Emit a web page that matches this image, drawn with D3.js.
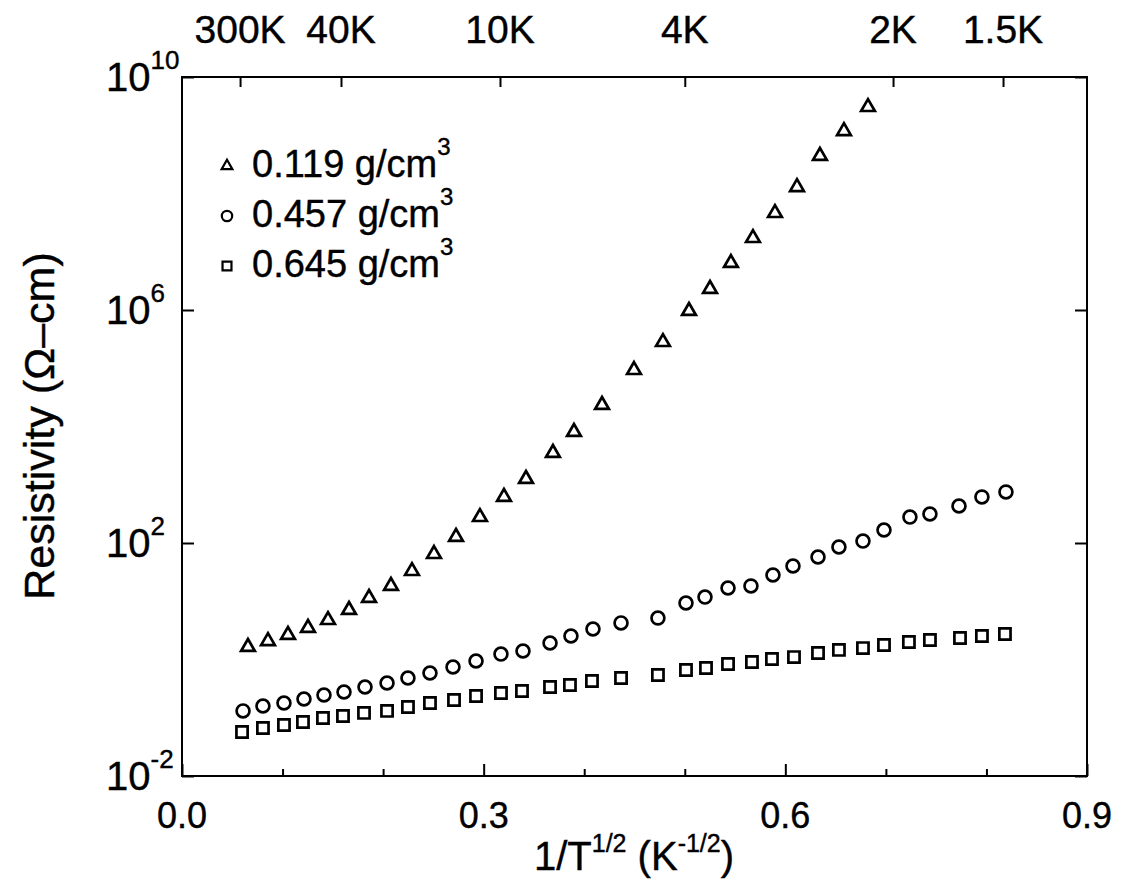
<!DOCTYPE html>
<html>
<head>
<meta charset="utf-8">
<script src="https://cdn.jsdelivr.net/npm/d3@7"></script>
<style>
  body { margin: 0; background: #fff; }
  svg { font-family: "Liberation Sans", Arial, Helvetica, sans-serif; }
  svg text { stroke: #000; stroke-width: 0.4px; }
</style>
</head>
<body>
<div id="chart"></div>
<script>
// 1/T^(1/2) values (K^-1/2) and resistivity (ohm-cm)
var triX = [0.0656, 0.0855, 0.1054, 0.1253, 0.1452, 0.1661, 0.1860, 0.2078, 0.2287, 0.2506,
            0.2725, 0.2963, 0.3202, 0.3421, 0.3689, 0.3898, 0.4177, 0.4495, 0.4783, 0.5042,
            0.5251, 0.5459, 0.5678, 0.5897, 0.6116, 0.6344, 0.6583, 0.6822];
var triRho = [1.64, 2.07, 2.64, 3.48, 4.76, 7.08, 11.4, 18.3, 33.0, 64.7,
              127, 279, 617, 1256, 3510, 8050, 23400, 93300, 2.82e5, 9.62e5,
              2.30e6, 6.41e6, 1.72e7, 4.62e7, 1.29e8, 4.41e8, 1.18e9, 3.05e9];

var circX = [0.0607, 0.0805, 0.1014, 0.1213, 0.1412, 0.1611, 0.1820, 0.2039, 0.2247, 0.2466,
             0.2695, 0.2924, 0.3172, 0.3391, 0.3660, 0.3868, 0.4087, 0.4366, 0.4733, 0.5012,
             0.5201, 0.5430, 0.5658, 0.5877, 0.6076, 0.6325, 0.6533, 0.6772, 0.6981, 0.7239,
             0.7438, 0.7727, 0.7955, 0.8194];
var circRho = [0.131, 0.159, 0.179, 0.210, 0.246, 0.277, 0.337, 0.395, 0.481, 0.586,
               0.743, 0.942, 1.24, 1.40, 1.92, 2.53, 3.34, 4.24, 5.15, 9.33,
               11.8, 16.9, 18.3, 28.2, 40.3, 57.5, 85.3, 108, 167, 279,
               315, 432, 617, 752];

var sqX = [0.0597, 0.0805, 0.1014, 0.1203, 0.1402, 0.1601, 0.1810, 0.2039, 0.2247, 0.2466,
           0.2705, 0.2924, 0.3172, 0.3381, 0.3660, 0.3858, 0.4077, 0.4366, 0.4733, 0.5012,
           0.5211, 0.5430, 0.5668, 0.5867, 0.6086, 0.6325, 0.6533, 0.6772, 0.6981, 0.7229,
           0.7438, 0.7737, 0.7955, 0.8184];
var sqRho = [0.0569, 0.0667, 0.0752, 0.0845, 0.0991, 0.107, 0.121, 0.131, 0.153, 0.179,
             0.202, 0.236, 0.266, 0.288, 0.337, 0.365, 0.428, 0.481, 0.542, 0.661,
             0.714, 0.838, 0.906, 1.02, 1.10, 1.29, 1.46, 1.57, 1.77, 2.00,
             2.16, 2.34, 2.53, 2.74];

var seriesNames = ['0.119 g/cm', '0.457 g/cm', '0.645 g/cm'];

var xMajorTicks = [0.0, 0.3, 0.6, 0.9];
var xMinorTicks = [0.1, 0.2, 0.4, 0.5, 0.7, 0.8];
var yTickExps = [10, 6, 2, -2];
var tempTicks = [300, 40, 10, 4, 2, 1.5];
var tempLabels = ['300K', '40K', '10K', '4K', '2K', '1.5K'];

function drawChart(target) {

    var width = 1127, height = 888;
    var pLeft = 182, pRight = 1087, pTop = 77, pBottom = 776;

    var svg = d3.select(target).append('svg')
                .attr('width', width).attr('height', height);

    var x = d3.scaleLinear().domain([0, 0.9]).range([pLeft, pRight]);
    var y = d3.scaleLog().domain([1e-2, 1e10]).range([pBottom, pTop]);

    function zip(xs, ys) {
        return xs.map(function(v, i) { return { x: v, y: ys[i] }; });
    }

    function cleanAxis(g) {
        g.select('.domain').remove();
        g.selectAll('.tick line').attr('stroke', '#000').attr('stroke-width', 2);
    }

    // frame
    svg.append('rect')
       .attr('x', pLeft).attr('y', pTop)
       .attr('width', pRight - pLeft).attr('height', pBottom - pTop)
       .attr('fill', 'none').attr('stroke', '#000').attr('stroke-width', 2);

    // bottom axis, ticks point inward
    svg.append('g').attr('transform', 'translate(0,' + pBottom + ')')
       .call(d3.axisBottom(x).tickValues(xMajorTicks).tickSize(-12).tickFormat(''))
       .call(cleanAxis);
    svg.append('g').attr('transform', 'translate(0,' + pBottom + ')')
       .call(d3.axisBottom(x).tickValues(xMinorTicks).tickSize(-7).tickFormat(''))
       .call(cleanAxis);

    svg.append('g').selectAll('text').data(xMajorTicks).enter()
       .append('text')
       .attr('x', function(d) { return x(d); })
       .attr('y', 828)
       .attr('text-anchor', 'middle')
       .attr('font-size', 36)
       .text(function(d) { return d3.format('.1f')(d); });

    // top axis: temperature
    svg.append('g').attr('transform', 'translate(0,' + pTop + ')')
       .call(d3.axisTop(x).tickValues(tempTicks.map(function(t) { return 1 / Math.sqrt(t); }))
               .tickSize(-10).tickFormat(''))
       .call(cleanAxis);

    svg.append('g').selectAll('text').data(tempTicks).enter()
       .append('text')
       .attr('x', function(t) { return x(1 / Math.sqrt(t)); })
       .attr('y', 43)
       .attr('text-anchor', 'middle')
       .attr('font-size', 39)
       .text(function(t, i) { return tempLabels[i]; });

    // left / right axes
    var yTicks = yTickExps.map(function(e) { return Math.pow(10, e); });
    svg.append('g').attr('transform', 'translate(' + pLeft + ',0)')
       .call(d3.axisLeft(y).tickValues(yTicks).tickSize(-12).tickFormat(''))
       .call(cleanAxis);
    svg.append('g').attr('transform', 'translate(' + pRight + ',0)')
       .call(d3.axisRight(y).tickValues(yTicks).tickSize(-12).tickFormat(''))
       .call(cleanAxis);

    var yLab = svg.append('g').selectAll('text').data(yTickExps).enter()
       .append('text')
       .attr('x', 106)
       .attr('y', function(e) { return y(Math.pow(10, e)) + 14; })
       .attr('font-size', 40);
    yLab.append('tspan').text('10');
    yLab.append('tspan').attr('dy', -22).attr('font-size', 26)
        .text(function(e) { return e < 0 ? '-' + (-e) : e; });

    // axis titles
    svg.append('text')
       .attr('transform', 'translate(54,426) rotate(-90)')
       .attr('text-anchor', 'middle')
       .attr('font-size', 43)
       .text('Resistivity (\u03A9\u2013cm)');

    var xt = svg.append('text')
       .attr('x', 634).attr('y', 870)
       .attr('text-anchor', 'middle')
       .attr('font-size', 40);
    xt.append('tspan').text('1/T');
    xt.append('tspan').attr('dy', -18).attr('font-size', 25).text('1/2');
    xt.append('tspan').attr('dy', 18).text(' (K');
    xt.append('tspan').attr('dy', -18).attr('font-size', 25).text('-1/2');
    xt.append('tspan').attr('dy', 18).text(')');

    // data markers
    var series = [
        { data: zip(triX, triRho), type: d3.symbolTriangle, size: 82 },
        { data: zip(circX, circRho), type: d3.symbolCircle, size: 130 },
        { data: zip(sqX, sqRho), type: d3.symbolSquare, size: 125 }
    ];

    series.forEach(function(s) {
        svg.append('g').selectAll('path').data(s.data).enter()
           .append('path')
           .attr('d', d3.symbol().type(s.type).size(s.size))
           .attr('transform', function(d) { return 'translate(' + x(d.x) + ',' + y(d.y) + ')'; })
           .attr('fill', 'none')
           .attr('stroke', '#000')
           .attr('stroke-width', 2.7);
    });

    // legend
    var legendSizes = [50, 85, 80];
    var legend = svg.append('g').selectAll('g').data(series).enter()
       .append('g')
       .attr('transform', function(d, i) { return 'translate(227,' + (166 + i * 50) + ')'; });
    legend.append('path')
       .attr('d', function(d, i) { return d3.symbol().type(d.type).size(legendSizes[i])(); })
       .attr('fill', 'none').attr('stroke', '#000').attr('stroke-width', 2.2);
    var lt = legend.append('text')
       .attr('x', 25).attr('y', 11)
       .attr('font-size', 38);
    lt.append('tspan').text(function(d, i) { return seriesNames[i]; });
    lt.append('tspan').attr('dy', -22).attr('font-size', 24).text('3');
}

drawChart('#chart');
</script>
</body>
</html>
